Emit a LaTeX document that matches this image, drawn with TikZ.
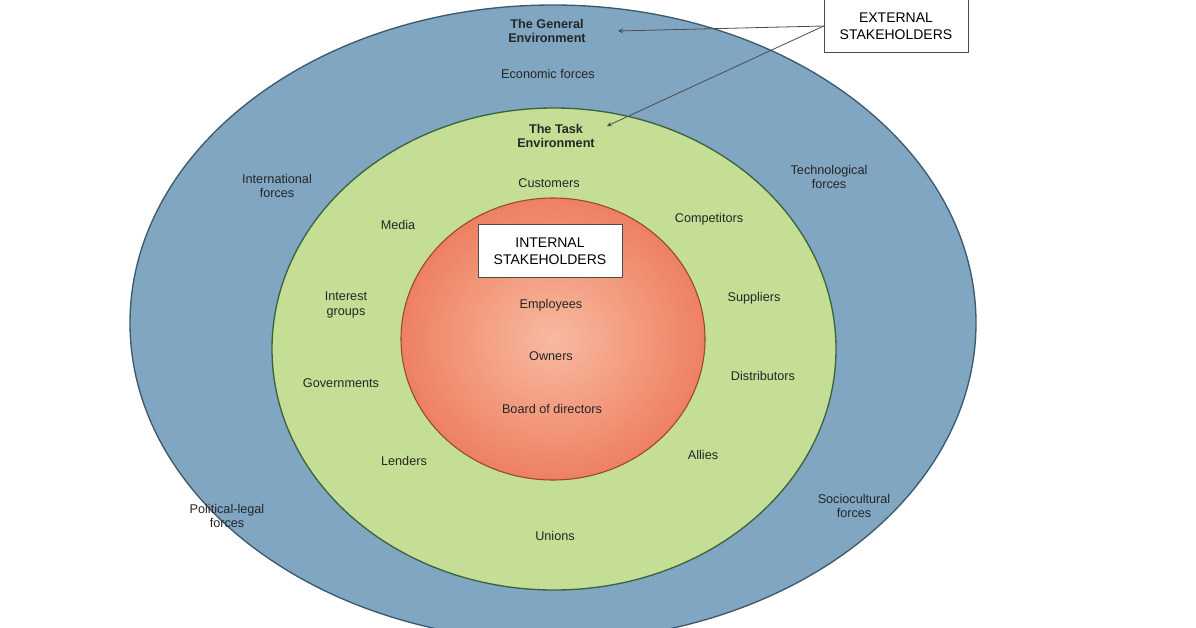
\documentclass[tikz,border=0pt]{standalone}
\usepackage{fontspec}
\setmainfont{Liberation Sans}
\definecolor{outerf}{RGB}{128,166,194}
\definecolor{outerd}{RGB}{60,90,110}
\definecolor{greenf}{RGB}{196,222,150}
\definecolor{greend}{RGB}{60,100,60}
\definecolor{orin}{RGB}{248,186,160}
\definecolor{orout}{RGB}{238,128,98}
\definecolor{ord}{RGB}{150,70,50}
\begin{document}
\begin{tikzpicture}[x=0.75pt,y=-0.75pt,
  lab/.style={font=\fontsize{9.5}{11}\selectfont,align=center,text=black!85},
  bold/.style={lab,font=\fontsize{9.5}{11}\selectfont\bfseries},
  box/.style={draw=black!70,fill=white,font=\fontsize{10.5}{13}\selectfont,align=center,inner sep=2pt,minimum width=108pt,minimum height=40pt},
  arr/.style={draw=black!70,->,>=stealth,line width=0.6pt}]
\useasboundingbox (0,0) rectangle (1196,628);
\fill[white] (0,0) rectangle (1196,628);
\begin{scope}
\clip (0,0) rectangle (1196,628);
\draw[fill=outerf,draw=outerd,line width=1pt] (553,323) ellipse [x radius=423,y radius=318];
\end{scope}
\draw[fill=greenf,draw=greend,line width=1pt] (554,349) ellipse [x radius=282,y radius=241];
\shade[inner color=orin,outer color=orout] (553,339) ellipse [x radius=152,y radius=141];
\draw[ord,line width=0.8pt] (553,339) ellipse [x radius=152,y radius=141];

\node[box] (ext) at (896,26) {EXTERNAL\\STAKEHOLDERS};
\node[box] (int) at (550,251) {INTERNAL\\STAKEHOLDERS};
\node[bold] (gen) at (547,31) {The General\\Environment};
\node[bold] (task) at (556,136) {The Task\\Environment};
\coordinate (g) at (618,31);
\coordinate (t) at (607,126);
\draw[arr] (ext.west) -- (g);
\draw[arr] (ext.west) -- (t);

\node[lab] (eco) at (548,74) {Economic forces};
\node[lab] (intl) at (277,186) {International\\forces};
\node[lab] (tech) at (829,177) {Technological\\forces};
\node[lab] (pol) at (227,516) {Political-legal\\forces};
\node[lab] (soc) at (854,506) {Sociocultural\\forces};

\node[lab] (cus) at (549,183) {Customers};
\node[lab] (med) at (398,225) {Media};
\node[lab] (com) at (709,219) {Competitors};
\node[lab] (igr) at (346,305) {Interest\\groups};
\node[lab] (sup) at (754,298) {Suppliers};
\node[lab] (gov) at (341,383) {Governments};
\node[lab] (dis) at (763,376) {Distributors};
\node[lab] (len) at (404,461) {Lenders};
\node[lab] (all) at (703,455) {Allies};
\node[lab] (uni) at (555,536) {Unions};

\node[lab] (emp) at (551,305) {Employees};
\node[lab] (own) at (551,356) {Owners};
\node[lab] (bod) at (552,409) {Board of directors};
\end{tikzpicture}
\end{document}
